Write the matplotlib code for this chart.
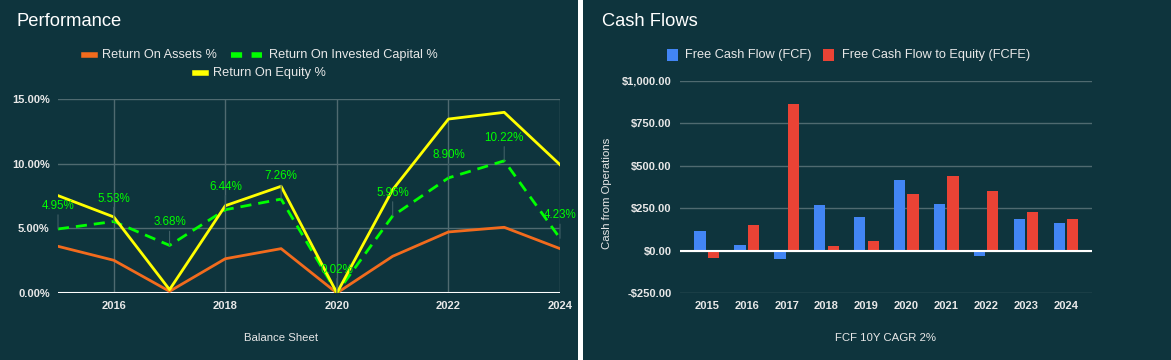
import numpy as np
import matplotlib.pyplot as plt
from matplotlib.lines import Line2D
from matplotlib.patches import Rectangle

plt.rcParams['font.family'] = ['Liberation Sans', 'DejaVu Sans']

years = [2015, 2016, 2017, 2018, 2019, 2020, 2021, 2022, 2023, 2024]
roa = [3.61, 2.53, 0.13, 2.65, 3.43, 0.0, 2.84, 4.72, 5.08, 3.43]
roic = [4.95, 5.53, 3.68, 6.44, 7.26, 0.02, 5.96, 8.90, 10.22, 4.23]
roe = [7.53, 5.88, 0.26, 6.75, 8.25, 0.0, 7.99, 13.45, 13.97, 9.92]

fcf = [117, 35, -49, 270, 199, 416, 275, -29, 187, 164]
fcfe = [-43, 148, 867, 25, 59, 334, 439, 352, 229, 188]

bg = '#0e343d'
grid_c = '#4f6a70'
txt = '#e8e8e8'
orange = '#f26b1d'
green = '#00ff00'
yellow = '#ffff00'
blue = '#4285f4'
red = '#ea4335'

W, H = 1171, 360
fig = plt.figure(figsize=(W / 100, H / 100), dpi=100, facecolor=bg)

# white divider between panels
fig.patches.append(Rectangle((578 / W, 0), 5 / W, 1, transform=fig.transFigure,
                             facecolor='white', edgecolor='none', zorder=0))

def px(x0, y0, x1, y1):
    return [x0 / W, 1 - y1 / H, (x1 - x0) / W, (y1 - y0) / H]

def fx(x):
    return x / W

def fy(y):
    return 1 - y / H

def leg_line(x0, x1, y, color, ls='-'):
    fig.add_artist(Line2D([fx(x0), fx(x1)], [fy(y), fy(y)], color=color, lw=4, ls=ls,
                          transform=fig.transFigure))

def leg_box(x0, y, color):
    fig.patches.append(Rectangle((fx(x0), fy(y + 6)), 11 / W, 12 / H, transform=fig.transFigure,
                                 facecolor=color, edgecolor='none'))

def leg_text(x, y, s):
    fig.text(fx(x), fy(y), s, color=txt, fontsize=9.2, va='center', ha='left')

# ---- Performance ----
ax = fig.add_axes(px(58, 99, 560, 293))
ax.set_facecolor(bg)
ax.plot(years, roa, color=orange, lw=2, zorder=3)
ax.plot(years, roic, color=green, lw=2, ls=(0, (4, 2.5)), zorder=3)
ax.plot(years, roe, color=yellow, lw=2, zorder=3)
for x, v in zip(years, roic):
    ax.annotate(f'{v:.2f}%', xy=(x, v), xytext=(0, 16.5), textcoords='offset points',
                ha='center', va='center', color=green, fontsize=8.4,
                arrowprops=dict(arrowstyle='-', color='#3f5f66', lw=0.8,
                                shrinkA=0, shrinkB=0), zorder=4)
ax.set_xlim(2015, 2024)
ax.set_ylim(0, 15)
ax.set_yticks([0, 5, 10, 15])
ax.set_yticklabels(['0.00%', '5.00%', '10.00%', '15.00%'])
ax.set_xticks([2016, 2018, 2020, 2022, 2024])
ax.grid(True, color=grid_c, lw=1)
ax.axhline(0, color='white', lw=1.5, zorder=2)
for s in ax.spines.values():
    s.set_visible(False)
ax.tick_params(length=0, colors=txt, labelsize=8, pad=6)
for lab in ax.get_xticklabels() + ax.get_yticklabels():
    lab.set_fontweight('bold')
ax.set_xlabel('Balance Sheet', color=txt, fontsize=8.2)
ax.xaxis.set_label_coords(0.444, -0.205)

fig.text(fx(17), fy(22), 'Performance', color='white', fontsize=13.2, va='center')
leg_line(84, 95, 55, orange)
leg_text(102, 55, 'Return On Assets %')
leg_line(231, 262, 55, green, ls=(0, (2.0, 1.7)))
leg_text(269, 55, 'Return On Invested Capital %')
leg_line(195, 206, 73, yellow)
leg_text(213, 73, 'Return On Equity %')

# ---- Cash Flows ----
bx = fig.add_axes(px(680, 81, 1092, 293))
bx.set_facecolor(bg)
xi = np.arange(len(years))
bx.bar(xi - 0.167, fcf, width=0.28, color=blue, zorder=3)
bx.bar(xi + 0.167, fcfe, width=0.28, color=red, zorder=3)
bx.set_xlim(-0.67, 9.65)
bx.set_ylim(-250, 1000)
bx.set_yticks([-250, 0, 250, 500, 750, 1000])
bx.set_yticklabels(['-$250.00', '$0.00', '$250.00', '$500.00', '$750.00', '$1,000.00'])
bx.set_xticks(xi)
bx.set_xticklabels([str(y) for y in years])
bx.grid(True, axis='y', color=grid_c, lw=1)
bx.axhline(0, color='white', lw=1.5, zorder=4)
for s in bx.spines.values():
    s.set_visible(False)
bx.tick_params(length=0, colors=txt, labelsize=8, pad=6)
for lab in bx.get_xticklabels() + bx.get_yticklabels():
    lab.set_fontweight('bold')
bx.set_xlabel('FCF 10Y CAGR 2%', color=txt, fontsize=8.2)
bx.xaxis.set_label_coords(0.499, -0.19)
bx.set_ylabel('Cash from Operations', color=txt, fontsize=8.2)
bx.yaxis.set_label_coords(-0.165, 0.472)

fig.text(fx(602), fy(22), 'Cash Flows', color='white', fontsize=13.2, va='center')
leg_box(667, 55, blue)
leg_text(685, 55, 'Free Cash Flow (FCF)')
leg_box(823, 55, red)
leg_text(842, 55, 'Free Cash Flow to Equity (FCFE)')

fig.savefig('out.png', dpi=100, facecolor=bg)
